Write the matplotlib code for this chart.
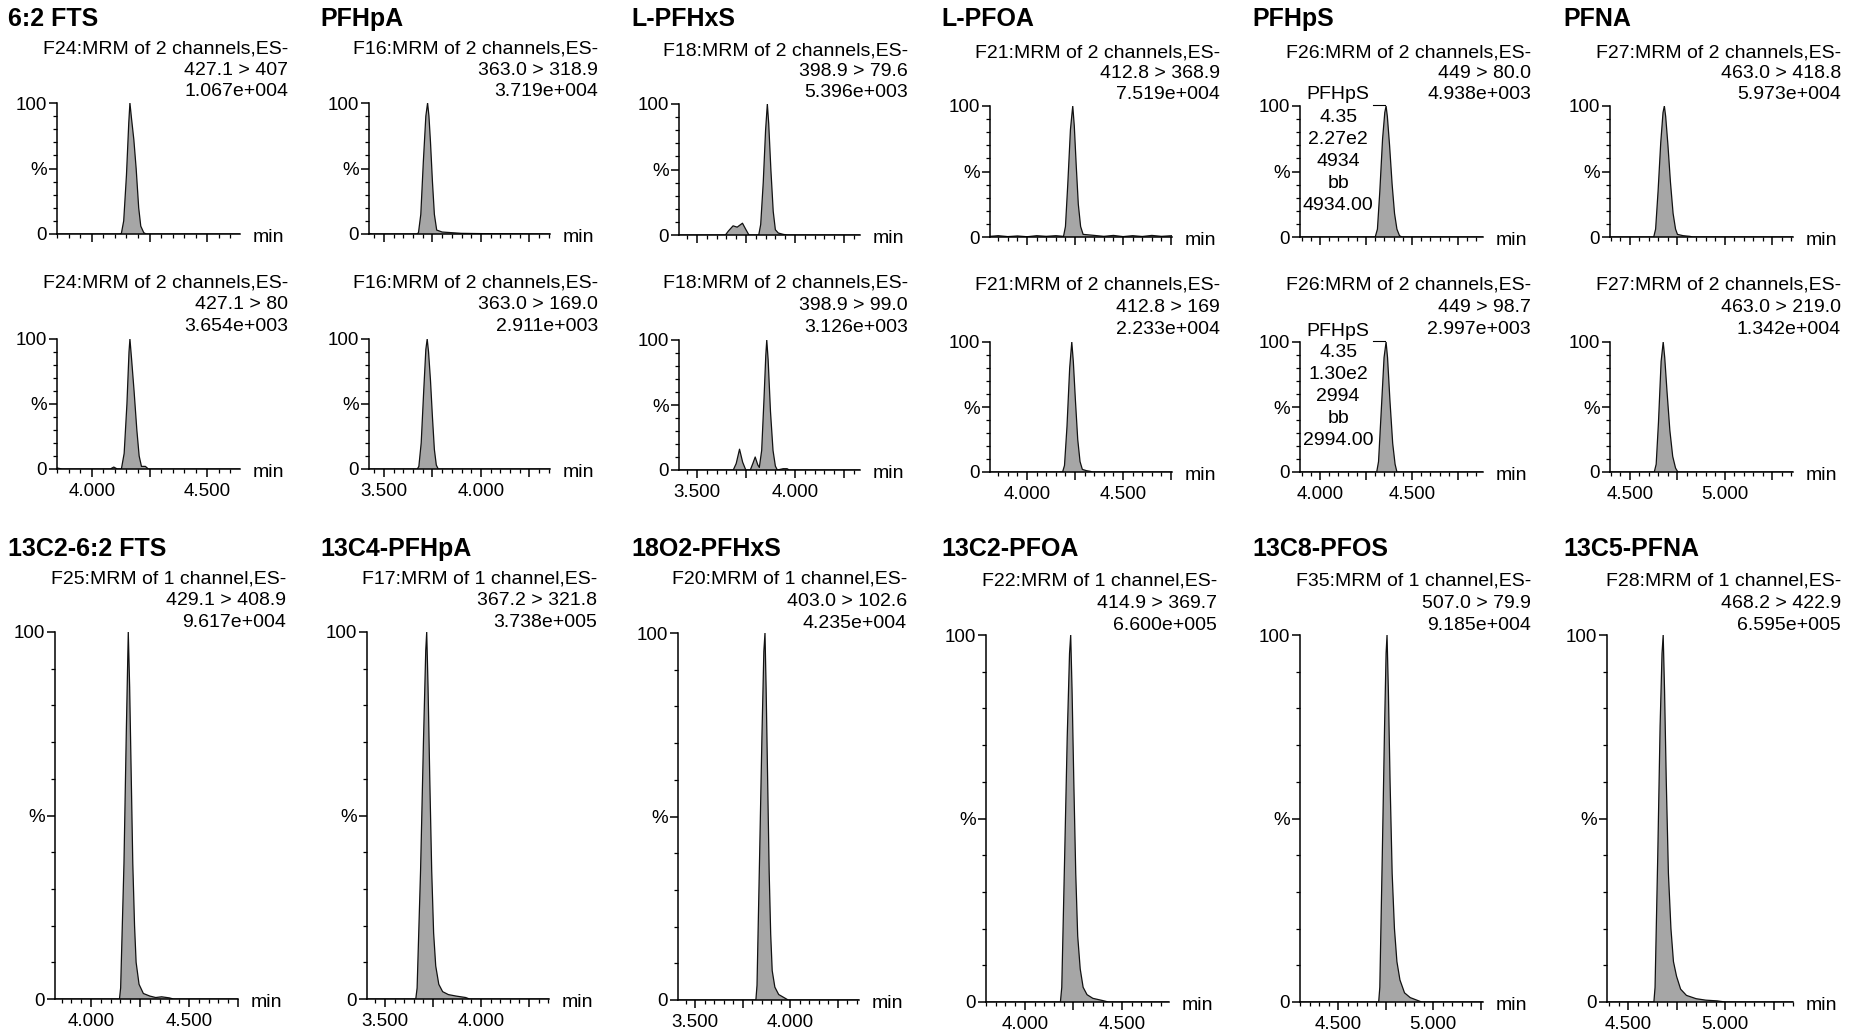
import matplotlib.pyplot as plt
from matplotlib.ticker import MultipleLocator, FuncFormatter

plt.rcParams['font.family'] = ['Liberation Sans', 'DejaVu Sans']

# ---- labels -------------------------------------------------------------
titles_top = ['6:2 FTS', 'PFHpA', 'L-PFHxS', 'L-PFOA', 'PFHpS', 'PFNA']
titles_bottom = ['13C2-6:2 FTS', '13C4-PFHpA', '18O2-PFHxS', '13C2-PFOA', '13C8-PFOS', '13C5-PFNA']

func_top = ['F24', 'F16', 'F18', 'F21', 'F26', 'F27']
func_bottom = ['F25', 'F17', 'F20', 'F22', 'F35', 'F28']

trans_quant = ['427.1 > 407', '363.0 > 318.9', '398.9 > 79.6', '412.8 > 368.9', '449 > 80.0', '463.0 > 418.8']
trans_qual = ['427.1 > 80', '363.0 > 169.0', '398.9 > 99.0', '412.8 > 169', '449 > 98.7', '463.0 > 219.0']
trans_is = ['429.1 > 408.9', '367.2 > 321.8', '403.0 > 102.6', '414.9 > 369.7', '507.0 > 79.9', '468.2 > 422.9']

max_quant = ['1.067e+004', '3.719e+004', '5.396e+003', '7.519e+004', '4.938e+003', '5.973e+004']
max_qual = ['3.654e+003', '2.911e+003', '3.126e+003', '2.233e+004', '2.997e+003', '1.342e+004']
max_is = ['9.617e+004', '3.738e+005', '4.235e+004', '6.600e+005', '9.185e+004', '6.595e+005']

# time window of each column (min)
xlim_top = [(3.849, 4.642), (3.423, 4.356), (3.408, 4.332), (3.807, 4.755), (3.891, 4.886), (4.395, 5.358)]
xlim_bottom = [(3.816, 4.75), (3.406, 4.354), (3.41, 4.363), (3.80, 4.742), (4.30, 5.263), (4.39, 5.35)]

# ---- traces: retention time (min) / relative intensity (%) ---------------
fts_t1 = [3.849, 4.12, 4.128, 4.138, 4.150, 4.160, 4.165, 4.172, 4.182, 4.192, 4.203, 4.212, 4.225, 4.235, 4.642]
fts_i1 = [0, 0, 0.5, 10, 45, 85, 100, 88, 72, 50, 20, 6, 1, 0, 0]
fts_t2 = [3.849, 3.87, 4.08, 4.095, 4.11, 4.128, 4.14, 4.152, 4.161, 4.165, 4.172, 4.183, 4.195, 4.205, 4.215, 4.232, 4.245, 4.642]
fts_i2 = [0.8, 0, 0, 1.5, 0, 0, 12, 50, 90, 100, 85, 60, 30, 10, 2, 2, 0, 0]

hpa_t1 = [3.423, 3.44, 3.67, 3.678, 3.69, 3.703, 3.716, 3.725, 3.732, 3.740, 3.750, 3.760, 3.772, 3.80, 3.85, 3.90, 4.0, 4.356]
hpa_i1 = [0.5, 0, 0, 1, 15, 55, 90, 100, 90, 70, 40, 15, 3, 1.5, 1, 0.5, 0.3, 0]
hpa_t2 = [3.423, 3.672, 3.680, 3.692, 3.705, 3.716, 3.723, 3.730, 3.740, 3.750, 3.760, 3.770, 3.78, 4.356]
hpa_i2 = [0, 0, 2, 20, 60, 92, 100, 90, 68, 40, 15, 3, 0, 0]

hxs_t1 = [3.408, 3.645, 3.66, 3.684, 3.705, 3.732, 3.75, 3.765, 3.815, 3.825, 3.838, 3.850, 3.859, 3.866, 3.877, 3.889, 3.900, 3.915, 3.94, 3.96, 4.332]
hxs_i1 = [0, 0, 3, 7, 6, 9, 4, 0, 0, 8, 40, 80, 100, 85, 50, 18, 4, 1.5, 0.5, 0, 0]
hxs_t2 = [3.408, 3.685, 3.70, 3.717, 3.733, 3.749, 3.772, 3.785, 3.797, 3.81, 3.818, 3.830, 3.842, 3.851, 3.856, 3.863, 3.875, 3.888, 3.900, 3.91, 3.94, 3.96, 3.97, 4.332]
hxs_i2 = [0, 0, 5, 16, 6, 0, 0, 5, 10, 4, 2, 15, 55, 88, 100, 85, 45, 15, 3, 0, 1, 1, 0, 0]

pfoa_t1 = [3.807, 3.85, 3.9, 3.95, 4.0, 4.05, 4.1, 4.15, 4.19, 4.200, 4.212, 4.226, 4.238, 4.246, 4.256, 4.267, 4.279, 4.292, 4.33, 4.4, 4.45, 4.5, 4.55, 4.6, 4.65, 4.7, 4.755]
pfoa_i1 = [0.5, 1, 0.3, 0.8, 0.2, 1, 0.5, 1, 0.5, 8, 40, 82, 100, 85, 55, 25, 8, 2, 1.5, 0.5, 1.2, 0.3, 1, 0.4, 1.2, 0.5, 1]
pfoa_t2 = [3.807, 4.185, 4.195, 4.208, 4.222, 4.233, 4.241, 4.252, 4.264, 4.276, 4.288, 4.31, 4.33, 4.34, 4.755]
pfoa_i2 = [0, 0, 5, 35, 80, 100, 85, 55, 25, 8, 2, 1, 0.5, 0, 0]

hps_t1 = [3.891, 4.30, 4.312, 4.325, 4.340, 4.352, 4.359, 4.366, 4.378, 4.392, 4.405, 4.418, 4.432, 4.445, 4.886]
hps_i1 = [0, 0, 6, 35, 75, 95, 100, 92, 70, 40, 18, 6, 1, 0, 0]
hps_t2 = [3.891, 4.308, 4.318, 4.332, 4.348, 4.359, 4.367, 4.380, 4.395, 4.408, 4.418, 4.886]
hps_i2 = [0, 0, 8, 45, 88, 100, 88, 55, 22, 6, 0, 0]

pfna_t1 = [4.395, 4.625, 4.635, 4.648, 4.662, 4.674, 4.681, 4.688, 4.700, 4.713, 4.727, 4.740, 4.750, 4.78, 4.815, 4.83, 5.358]
pfna_i1 = [0, 0, 6, 35, 72, 95, 100, 92, 70, 42, 18, 6, 2, 1, 0.5, 0, 0]
pfna_t2 = [4.395, 4.628, 4.638, 4.650, 4.664, 4.675, 4.683, 4.695, 4.710, 4.725, 4.740, 4.752, 5.358]
pfna_i2 = [0, 0, 6, 38, 85, 100, 88, 62, 32, 12, 3, 0, 0]

# labelled internal standards
is_fts_t = [3.816, 4.145, 4.151, 4.168, 4.180, 4.190, 4.197, 4.204, 4.213, 4.222, 4.230, 4.245, 4.267, 4.30, 4.33, 4.36, 4.40, 4.42, 4.75]
is_fts_i = [0, 0, 3, 37, 73, 100, 85, 64, 37, 20, 10, 4, 1.5, 0.8, 0.4, 0.6, 0.3, 0, 0]
is_hpa_t = [3.406, 3.660, 3.667, 3.685, 3.700, 3.712, 3.717, 3.724, 3.733, 3.743, 3.753, 3.764, 3.78, 3.80, 3.83, 3.87, 3.92, 3.94, 4.354]
is_hpa_i = [0, 0, 3, 35, 70, 95, 100, 85, 60, 35, 18, 9, 4, 2, 1.2, 0.8, 0.4, 0, 0]
is_hxs_t = [3.41, 3.82, 3.826, 3.840, 3.852, 3.862, 3.868, 3.874, 3.882, 3.890, 3.898, 3.906, 3.92, 3.94, 3.97, 3.99, 4.363]
is_hxs_i = [0, 0, 4, 40, 72, 95, 100, 85, 60, 35, 18, 8, 3.5, 1.5, 0.6, 0, 0]
is_pfoa_t = [3.80, 4.183, 4.190, 4.205, 4.218, 4.230, 4.236, 4.243, 4.252, 4.262, 4.272, 4.285, 4.30, 4.32, 4.35, 4.40, 4.43, 4.742]
is_pfoa_i = [0, 0, 4, 40, 72, 95, 100, 85, 60, 35, 18, 9, 4, 2, 1, 0.4, 0, 0]
is_pfos_t = [4.30, 4.714, 4.720, 4.733, 4.745, 4.753, 4.758, 4.765, 4.774, 4.785, 4.797, 4.810, 4.826, 4.85, 4.88, 4.92, 4.94, 5.263]
is_pfos_i = [0, 0, 4, 40, 75, 95, 100, 85, 60, 35, 20, 11, 6, 2.5, 1.2, 0.4, 0, 0]
is_pfna_t = [4.39, 4.632, 4.638, 4.652, 4.664, 4.674, 4.680, 4.687, 4.696, 4.707, 4.720, 4.733, 4.749, 4.77, 4.80, 4.85, 4.90, 4.96, 5.0, 5.35]
is_pfna_i = [0, 0, 4, 40, 75, 95, 100, 85, 60, 35, 20, 11, 7, 3.5, 1.8, 0.9, 0.5, 0.3, 0, 0]

traces_quant = [(fts_t1, fts_i1), (hpa_t1, hpa_i1), (hxs_t1, hxs_i1), (pfoa_t1, pfoa_i1), (hps_t1, hps_i1), (pfna_t1, pfna_i1)]
traces_qual = [(fts_t2, fts_i2), (hpa_t2, hpa_i2), (hxs_t2, hxs_i2), (pfoa_t2, pfoa_i2), (hps_t2, hps_i2), (pfna_t2, pfna_i2)]
traces_is = [(is_fts_t, is_fts_i), (is_hpa_t, is_hpa_i), (is_hxs_t, is_hxs_i), (is_pfoa_t, is_pfoa_i), (is_pfos_t, is_pfos_i), (is_pfna_t, is_pfna_i)]

# peak integration labels (PFHpS)
hps_peak_q = ['PFHpS', '4.35', '2.27e2', '4934', 'bb', '4934.00']
hps_peak_c = ['PFHpS', '4.35', '1.30e2', '2994', 'bb', '2994.00']

# ---- layout (pixels) -----------------------------------------------------
W, H = 1857, 1035
fig = plt.figure(figsize=(W / 100, H / 100), dpi=100)

left_12 = [57, 369, 679, 990, 1300, 1610]
right_12 = [240, 550, 860, 1172, 1483, 1793]
left_3 = [55, 367, 678, 986, 1300, 1607]
right_3 = [238, 549, 859, 1169, 1483, 1793]
title_x = [8, 320, 631, 941, 1252, 1563]
col_dy = [0, 0, 1, 3, 3, 3]

rows = [
    dict(y100=103, y0=234, lefts=left_12, rights=right_12, head=[54, 75, 96], xlabels=False),
    dict(y100=339, y0=469, lefts=left_12, rights=right_12, head=[287, 309, 331], xlabels=True),
    dict(y100=632, y0=999, lefts=left_3, rights=right_3, head=[583, 605, 627], xlabels=True),
]


def ftext(x, y, s, **kw):
    fig.text(x / W, 1 - y / H, s, **kw)


def xfmt(v, pos):
    if abs(v * 2 - round(v * 2)) < 1e-6:
        return '%.3f' % v
    return ''


def draw_panel(r, c, trace, xlim, headers):
    row = rows[r]
    dy = col_dy[c]
    left, right = row['lefts'][c], row['rights'][c]
    y100, y0 = row['y100'] + dy, row['y0'] + dy
    ax = fig.add_axes([left / W, 1 - y0 / H, (right - left) / W, (y0 - y100) / H])
    t, inten = trace
    ax.fill_between(t, inten, 0, facecolor='#a6a6a6', edgecolor='none', lw=0)
    ax.plot(t, inten, color='#111111', lw=0.9)
    ax.set_xlim(*xlim)
    ax.set_ylim(0, 100)
    for s in ['top', 'right']:
        ax.spines[s].set_visible(False)
    for s in ['left', 'bottom']:
        ax.spines[s].set_linewidth(1.1)
    ax.set_yticks([0, 50, 100])
    ax.set_yticklabels(['0', '%', '100'])
    ax.yaxis.set_minor_locator(MultipleLocator(10))
    ax.xaxis.set_major_locator(MultipleLocator(0.25))
    ax.xaxis.set_minor_locator(MultipleLocator(0.05))
    ax.xaxis.set_major_formatter(FuncFormatter(xfmt))
    ax.tick_params(which='major', direction='out', length=6, width=1.1, labelsize=13.5, pad=1.5)
    ax.tick_params(which='minor', direction='out', length=3, width=0.9)
    ax.tick_params(axis='x', which='major', pad=4, labelbottom=row['xlabels'])
    # header block
    for y, s in zip(row['head'], headers):
        ftext(right + 48, y + dy, s, ha='right', va='baseline', fontsize=14)
    ftext(right + 13, y0 + 8, 'min', ha='left', va='baseline', fontsize=14)
    return ax


for c in range(6):
    ftext(title_x[c], 26, titles_top[c], ha='left', va='baseline', fontsize=18, fontweight='bold')
    ftext(title_x[c], 556, titles_bottom[c], ha='left', va='baseline', fontsize=18, fontweight='bold')

    ch2 = func_top[c] + ':MRM of 2 channels,ES-'
    ax1 = draw_panel(0, c, traces_quant[c], xlim_top[c], [ch2, trans_quant[c], max_quant[c]])
    ax2 = draw_panel(1, c, traces_qual[c], xlim_top[c], [ch2, trans_qual[c], max_qual[c]])
    ch1 = func_bottom[c] + ':MRM of 1 channel,ES-'
    draw_panel(2, c, traces_is[c], xlim_bottom[c], [ch1, trans_is[c], max_is[c]])

    if c == 4:
        for ax, lab in [(ax1, hps_peak_q), (ax2, hps_peak_c)]:
            ys = [108.4, 91.6, 74.8, 58.0, 41.2, 24.4]
            for y, s in zip(ys, lab):
                ax.text(4.098, y, s, ha='center', va='center', fontsize=14)
            ax.plot([4.288, 4.355], [101, 101], color='black', lw=0.8, clip_on=False)

fig.savefig('out.png', dpi=100)
